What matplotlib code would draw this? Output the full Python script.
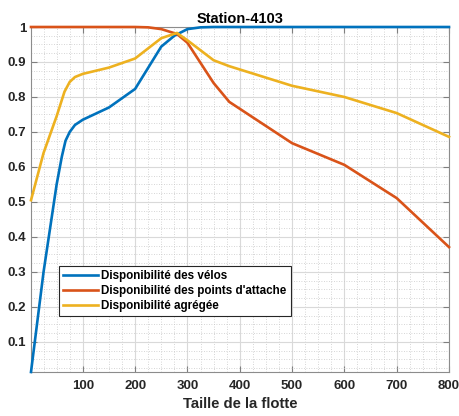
import matplotlib
matplotlib.use("Agg")
import matplotlib.pyplot as plt
from matplotlib.ticker import MultipleLocator, FuncFormatter

plt.rcParams['font.family'] = ['Liberation Sans', 'DejaVu Sans']

# fleet sizes and availability curves
x_velos = [1, 25, 50, 60, 67, 75, 85, 100, 150, 200, 250, 275, 300, 325, 350, 400, 500, 600, 700, 800]
velos = [0.014, 0.30, 0.55, 0.63, 0.675, 0.70, 0.72, 0.735, 0.77, 0.823, 0.944, 0.975, 0.994,
         0.999, 1.0, 1.0, 1.0, 1.0, 1.0, 1.0]

x_points = [1, 100, 200, 225, 250, 280, 300, 350, 380, 500, 600, 700, 800]
points = [1.0, 1.0, 1.0, 0.999, 0.994, 0.98, 0.955, 0.84, 0.786, 0.668, 0.606, 0.511, 0.371]

x_agreg = [1, 25, 50, 65, 75, 85, 100, 150, 200, 250, 280, 300, 350, 380, 500, 600, 700, 800]
agreg = [0.505, 0.64, 0.745, 0.815, 0.843, 0.857, 0.866, 0.884, 0.91, 0.968, 0.983, 0.962, 0.905,
         0.888, 0.832, 0.80, 0.754, 0.686]

labels = ["Disponibilité des vélos", "Disponibilité des points d'attache", "Disponibilité agrégée"]
colors = ["#0072BD", "#D95319", "#EDB120"]

fig = plt.figure(figsize=(4.59, 4.16), dpi=100)
ax = fig.add_axes([31 / 459, 1 - 372 / 416, 418 / 459, 345 / 416])

ax.plot(x_velos, velos, color=colors[0], lw=1.9, label=labels[0], clip_on=False, zorder=3)
ax.plot(x_points, points, color=colors[1], lw=1.9, label=labels[1], clip_on=False, zorder=3)
ax.plot(x_agreg, agreg, color=colors[2], lw=1.9, label=labels[2], clip_on=False, zorder=3)

ax.set_xlim(1, 800)
ax.set_ylim(0.014, 1)
ax.xaxis.set_major_locator(MultipleLocator(100))
ax.xaxis.set_minor_locator(MultipleLocator(25))
ax.yaxis.set_major_locator(MultipleLocator(0.1))
ax.yaxis.set_minor_locator(MultipleLocator(0.025))
ax.yaxis.set_major_formatter(FuncFormatter(lambda v, p: f"{v:g}"))
ax.xaxis.set_major_formatter(FuncFormatter(lambda v, p: f"{v:g}" if v > 0 else ""))

ax.grid(which='major', color='#d9d9d9', lw=0.8)
ax.grid(which='minor', color='#c8c8c8', lw=0.6, linestyle=(0, (1, 2)))
ax.set_axisbelow(True)

ax.tick_params(which='both', direction='in', top=True, right=True, colors='#7f7f7f',
               labelcolor='#262626', labelsize=9.5)
ax.tick_params(which='major', length=4)
ax.tick_params(which='minor', length=0)
ax.tick_params(axis='x', pad=6)
for lab in ax.get_xticklabels() + ax.get_yticklabels():
    lab.set_fontweight('bold')
for s in ax.spines.values():
    s.set_color('#8c8c8c')
    s.set_linewidth(0.8)

ax.set_title("Station-4103", fontsize=10.5, fontweight='bold', pad=3)
ax.set_xlabel("Taille de la flotte", fontsize=10.7, fontweight='bold', color='#262626', labelpad=3)

leg = ax.legend(loc='lower left', bbox_to_anchor=(0.066, 0.163), fancybox=False,
                framealpha=1, edgecolor='#262626', handlelength=3.0, borderpad=0.35,
                labelspacing=0.25, handletextpad=0.3, borderaxespad=0,
                prop={'size': 8.4, 'weight': 'bold'})
leg.get_frame().set_linewidth(0.8)

fig.savefig("out.png", dpi=100)
